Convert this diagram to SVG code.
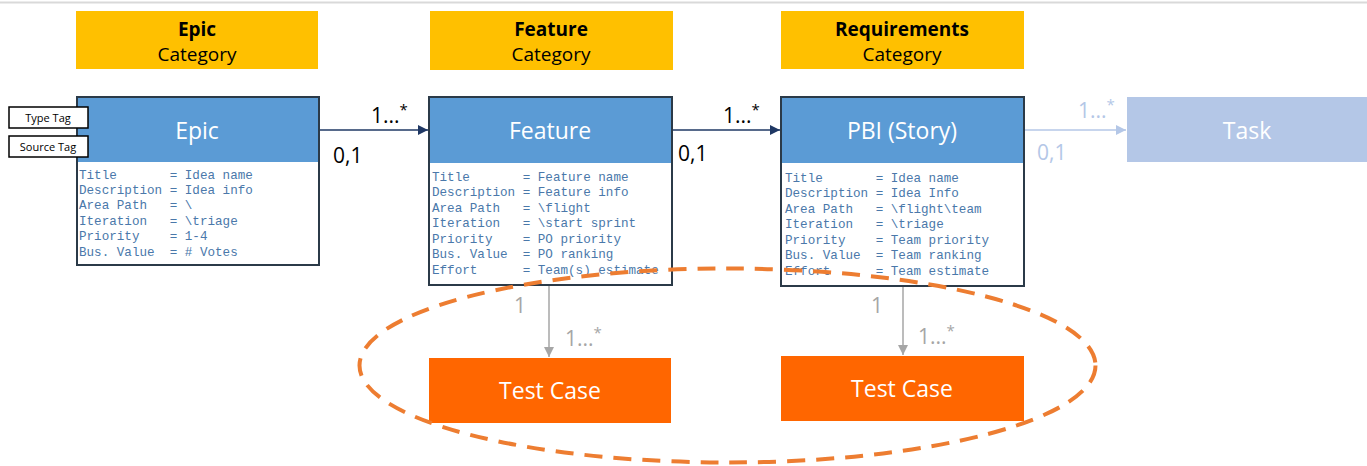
<svg xmlns="http://www.w3.org/2000/svg" width="1367" height="466" viewBox="0 0 1367 466">
<defs>
<style>
.cat{fill:#ffc000}
.catb{font-family:"Open Sans","Noto Sans",sans-serif;font-size:19px;font-weight:bold;fill:#000;text-anchor:middle}
.catn{font-family:"Open Sans","Noto Sans",sans-serif;font-size:19px;fill:#000;text-anchor:middle}
.box{fill:#fff;stroke:#2b3a48;stroke-width:2}
.hdr{fill:#5b9bd5}
.ttl{font-family:"Open Sans","Noto Sans",sans-serif;font-size:23px;fill:#fff;text-anchor:middle}
.body{font-family:"Liberation Mono",monospace;font-size:12.6px;fill:#4a78aa;white-space:pre}
.tag{fill:#fff;stroke:#000;stroke-width:1.5}
.tagt{font-family:"Open Sans","Noto Sans",sans-serif;font-size:11px;fill:#000;text-anchor:middle}
.mult{font-family:"Open Sans","Noto Sans",sans-serif;font-size:21px;fill:#000}
.multl{font-family:"Open Sans","Noto Sans",sans-serif;font-size:21px;fill:#b4c7e7}
.multg{font-family:"Open Sans","Noto Sans",sans-serif;font-size:21px;fill:#a6a6a6}
.tc{fill:#ff6600}
</style>
<marker id="ad" viewBox="0 0 10 10" refX="10" refY="5" markerWidth="10" markerHeight="10" markerUnits="userSpaceOnUse" orient="auto"><path d="M0,0L10,5L0,10z" fill="#1f3864"/></marker>
<marker id="al" viewBox="0 0 10 10" refX="10" refY="5" markerWidth="10" markerHeight="10" markerUnits="userSpaceOnUse" orient="auto"><path d="M0,0L10,5L0,10z" fill="#b4c7e7"/></marker>
<marker id="ag" viewBox="0 0 10 10" refX="10" refY="5" markerWidth="10" markerHeight="10" markerUnits="userSpaceOnUse" orient="auto"><path d="M0,0L10,5L0,10z" fill="#a6a6a6"/></marker>
</defs>
<rect width="1367" height="466" fill="#fff"/>
<line x1="0" y1="2.5" x2="1367" y2="2.5" stroke="#d9d9d9" stroke-width="2"/>

<g id="cat-epic">
<rect class="cat" x="76" y="11" width="242" height="58"/>
<text class="catb" x="197" y="36">Epic</text>
<text class="catn" x="197" y="61">Category</text>
</g>
<g id="cat-feature">
<rect class="cat" x="430" y="11" width="243" height="59"/>
<text class="catb" x="551" y="36">Feature</text>
<text class="catn" x="551" y="61">Category</text>
</g>
<g id="cat-req">
<rect class="cat" x="781" y="11" width="243" height="58"/>
<text class="catb" x="902" y="36">Requirements</text>
<text class="catn" x="902" y="61">Category</text>
</g>

<g id="connectors">
<line x1="319" y1="130" x2="428" y2="130" stroke="#1f3864" stroke-width="1.5" marker-end="url(#ad)"/>
<line x1="672" y1="130" x2="780" y2="130" stroke="#1f3864" stroke-width="1.5" marker-end="url(#ad)"/>
<line x1="1025" y1="130" x2="1126" y2="130" stroke="#b4c7e7" stroke-width="1.5" marker-end="url(#al)"/>
<line x1="549" y1="286" x2="549" y2="357" stroke="#a6a6a6" stroke-width="1.5" marker-end="url(#ag)"/>
<line x1="903" y1="287" x2="903" y2="355" stroke="#a6a6a6" stroke-width="1.5" marker-end="url(#ag)"/>
<text class="mult" x="371" y="123">1...<tspan font-size="15" dy="-8">*</tspan></text>
<text class="mult" x="333" y="163">0,1</text>
<text class="mult" x="723" y="123">1...<tspan font-size="15" dy="-8">*</tspan></text>
<text class="mult" x="678" y="161">0,1</text>
<text class="multl" x="1078" y="118">1...<tspan font-size="15" dy="-8">*</tspan></text>
<text class="multl" x="1037" y="160">0,1</text>
<text class="multg" x="514" y="313">1</text>
<text class="multg" x="565" y="346">1...<tspan font-size="15" dy="-8">*</tspan></text>
<text class="multg" x="871" y="313">1</text>
<text class="multg" x="918" y="344">1...<tspan font-size="15" dy="-8">*</tspan></text>
</g>

<g id="epic">
<rect class="box" x="77" y="97" width="242" height="168"/>
<rect class="hdr" x="78" y="98" width="240" height="64"/>
<text class="ttl" x="197" y="139">Epic</text>
<text class="body" xml:space="preserve" x="79" y="179">Title       = Idea name</text>
<text class="body" xml:space="preserve" x="79" y="194">Description = Idea info</text>
<text class="body" xml:space="preserve" x="79" y="209">Area Path   = \</text>
<text class="body" xml:space="preserve" x="79" y="225">Iteration   = \triage</text>
<text class="body" xml:space="preserve" x="79" y="240">Priority    = 1-4</text>
<text class="body" xml:space="preserve" x="79" y="256">Bus. Value  = # Votes</text>
</g>
<g id="type-tag">
<rect class="tag" x="9" y="107" width="79" height="21"/>
<text class="tagt" x="48" y="122">Type Tag</text>
</g>
<g id="source-tag">
<rect class="tag" x="9" y="136" width="79" height="21"/>
<text class="tagt" x="48" y="151">Source Tag</text>
</g>

<g id="feature">
<rect class="box" x="429" y="97" width="243" height="188"/>
<rect class="hdr" x="430" y="98" width="241" height="65"/>
<text class="ttl" x="550" y="139">Feature</text>
<text class="body" xml:space="preserve" x="432" y="181">Title       = Feature name</text>
<text class="body" xml:space="preserve" x="432" y="196">Description = Feature info</text>
<text class="body" xml:space="preserve" x="432" y="212">Area Path   = \flight</text>
<text class="body" xml:space="preserve" x="432" y="227">Iteration   = \start sprint</text>
<text class="body" xml:space="preserve" x="432" y="243">Priority    = PO priority</text>
<text class="body" xml:space="preserve" x="432" y="258">Bus. Value  = PO ranking</text>
<text class="body" xml:space="preserve" x="432" y="274">Effort      = Team(s) estimate</text>
</g>

<g id="pbi">
<rect class="box" x="781" y="97" width="243" height="189"/>
<rect class="hdr" x="782" y="98" width="241" height="65"/>
<text class="ttl" x="902" y="139">PBI (Story)</text>
<text class="body" xml:space="preserve" x="785" y="182">Title       = Idea name</text>
<text class="body" xml:space="preserve" x="785" y="197">Description = Idea Info</text>
<text class="body" xml:space="preserve" x="785" y="213">Area Path   = \flight\team</text>
<text class="body" xml:space="preserve" x="785" y="228">Iteration   = \triage</text>
<text class="body" xml:space="preserve" x="785" y="244">Priority    = Team priority</text>
<text class="body" xml:space="preserve" x="785" y="259">Bus. Value  = Team ranking</text>
<text class="body" xml:space="preserve" x="785" y="275">Effort      = Team estimate</text>
</g>

<g id="task">
<rect x="1127" y="97" width="240" height="65" fill="#b4c7e7"/>
<text class="ttl" x="1247" y="139">Task</text>
</g>

<g id="testcase-1">
<rect class="tc" x="429" y="358" width="242" height="65"/>
<text class="ttl" x="550" y="399">Test Case</text>
</g>
<g id="testcase-2">
<rect class="tc" x="781" y="356" width="243" height="65"/>
<text class="ttl" x="902" y="397">Test Case</text>
</g>

<g id="group-ellipse">
<ellipse cx="727.5" cy="365.5" rx="368" ry="97" fill="none" stroke="#ed7d31" stroke-width="4" stroke-dasharray="18 11"/>
</g>
</svg>
